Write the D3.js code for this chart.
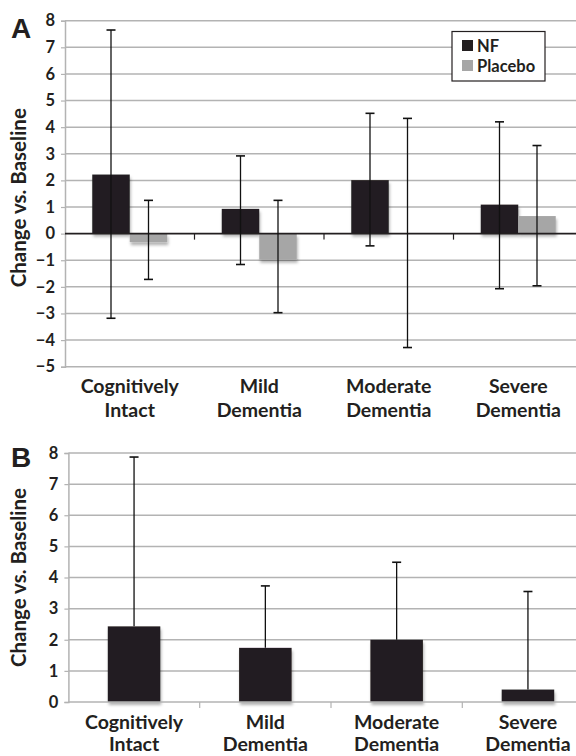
<!DOCTYPE html>
<html>
<head>
<meta charset="utf-8">
<script src="https://cdn.jsdelivr.net/npm/d3@7"></script>
<style>
  body { margin: 0; background: #fff; }
  svg { display: block; font-family: Lato, "Open Sans", sans-serif; font-weight: bold; }
</style>
</head>
<body>
<svg id="chart" width="576" height="756"></svg>
<script>
// categories shared by both panels
const categories = ['Cognitively Intact', 'Mild Dementia', 'Moderate Dementia', 'Severe Dementia'];
const seriesNames = ['NF', 'Placebo'];

// panel A
const nfA = [2.22, 0.93, 2.01, 1.09];
const nfAHigh = [7.65, 2.92, 4.52, 4.2];
const nfALow = [-3.18, -1.16, -0.46, -2.07];
const placeboA = [-0.32, -0.98, 0, 0.66];
const placeboAHigh = [1.25, 1.25, 4.33, 3.31];
const placeboALow = [-1.72, -2.97, -4.28, -1.96];
const ticksA = [-5, -4, -3, -2, -1, 0, 1, 2, 3, 4, 5, 6, 7, 8];

// panel B
const nfB = [2.43, 1.74, 2.0, 0.4];
const nfBHigh = [7.87, 3.73, 4.49, 3.55];
const ticksB = [0, 1, 2, 3, 4, 5, 6, 7, 8];

const colors = { NF: '#231f20', Placebo: '#a6a6a6' };
const gridColor = '#b3b3b3';

const svg = d3.select('#chart');

const defs = svg.append('defs');
const shadow = defs.append('filter').attr('id', 'shadow')
    .attr('x', '-20%').attr('y', '-20%').attr('width', '140%').attr('height', '140%');
shadow.append('feDropShadow')
    .attr('dx', 1).attr('dy', 3).attr('stdDeviation', 1.6)
    .attr('flood-color', '#000').attr('flood-opacity', 0.3);

let drawCategoryLabels = (g, x, y1, lineGap) => {
  categories.forEach((c, i) => {
    const words = c.split(' ');
    const t = g.append('text')
        .attr('text-anchor', 'middle')
        .attr('font-size', 19.5)
        .attr('fill', '#231f20');
    words.forEach((w, j) => {
      t.append('tspan')
          .attr('x', x(c) + x.bandwidth() / 2)
          .attr('y', y1 + j * lineGap)
          .text(w);
    });
  });
};

let drawYAxis = (g, y, ticks, xLeft) => {
  const axis = d3.axisLeft(y).tickValues(ticks).tickSize(4).tickPadding(6).tickFormat(d3.format('d'));
  const ga = g.append('g').attr('transform', `translate(${xLeft},0)`).call(axis);
  ga.select('.domain').attr('stroke', gridColor).attr('stroke-width', 1.5);
  ga.selectAll('.tick line').attr('stroke', gridColor).attr('stroke-width', 1.2);
  ga.selectAll('.tick text').attr('font-size', 16.5).attr('font-family', 'Lato, sans-serif')
      .attr('font-weight', 'bold').attr('fill', '#231f20');
};

let drawErrors = (g, cx, top, bottom, lowCap) => {
  g.append('line').attr('x1', cx).attr('x2', cx).attr('y1', top).attr('y2', bottom)
      .attr('stroke', '#111').attr('stroke-width', 1.3);
  g.append('line').attr('x1', cx - 4.5).attr('x2', cx + 4.5).attr('y1', top).attr('y2', top)
      .attr('stroke', '#111').attr('stroke-width', 1.6);
  if (lowCap) {
    g.append('line').attr('x1', cx - 4.5).attr('x2', cx + 4.5).attr('y1', bottom).attr('y2', bottom)
        .attr('stroke', '#111').attr('stroke-width', 1.6);
  }
};

// ---------- Panel A ----------
const gA = svg.append('g');
const xA = d3.scaleBand().domain(categories).range([65, 583]).padding(0);
const xA1 = d3.scaleBand().domain(seriesNames)
    .range([xA.bandwidth() / 2 - 37.5, xA.bandwidth() / 2 + 37.5]);
const yA = d3.scaleLinear().domain([-5, 8]).range([366.7, 20.7]);

gA.selectAll('.gridA').data(ticksA.filter(d => d !== 0)).enter()
    .append('line')
    .attr('x1', 65).attr('x2', 583)
    .attr('y1', d => yA(d)).attr('y2', d => yA(d))
    .attr('stroke', gridColor).attr('stroke-width', 1.5);

drawYAxis(gA, yA, ticksA, 65);

const dataA = [
  { name: 'NF', values: nfA, high: nfAHigh, low: nfALow },
  { name: 'Placebo', values: placeboA, high: placeboAHigh, low: placeboALow }
];

dataA.forEach(s => {
  gA.append('g').attr('filter', 'url(#shadow)')
    .selectAll('rect').data(s.values).enter()
    .append('rect')
    .attr('x', (d, i) => xA(categories[i]) + xA1(s.name))
    .attr('width', xA1.bandwidth())
    .attr('y', d => yA(Math.max(0, d)))
    .attr('height', d => Math.abs(yA(d) - yA(0)))
    .attr('fill', colors[s.name]);
});

// zero axis
gA.append('line').attr('x1', 65).attr('x2', 583).attr('y1', yA(0)).attr('y2', yA(0))
    .attr('stroke', '#231f20').attr('stroke-width', 1.6);
categories.slice(1).forEach(c => {
  gA.append('line').attr('x1', xA(c)).attr('x2', xA(c))
      .attr('y1', yA(0)).attr('y2', yA(0) + 6)
      .attr('stroke', '#231f20').attr('stroke-width', 1.2);
});

dataA.forEach(s => {
  s.values.forEach((v, i) => {
    const cx = xA(categories[i]) + xA1(s.name) + xA1.bandwidth() / 2;
    drawErrors(gA, cx, yA(s.high[i]), yA(s.low[i]), true);
  });
});

drawCategoryLabels(gA, xA, 393, 24);

// legend
const leg = gA.append('g');
leg.append('rect').attr('x', 452).attr('y', 31.5).attr('width', 93).attr('height', 49.5)
    .attr('fill', '#fff').attr('stroke', '#231f20').attr('stroke-width', 1.2);
seriesNames.forEach((n, i) => {
  leg.append('rect').attr('x', 462).attr('y', 40 + i * 20).attr('width', 11).attr('height', 11)
      .attr('fill', colors[n]);
  leg.append('text').attr('x', 477).attr('y', 52 + i * 20).attr('font-size', 16.5)
      .attr('fill', '#231f20').text(n);
});

// titles
svg.append('text').attr('x', 11).attr('y', 38).attr('font-size', 28)
    .attr('font-family', '"Liberation Sans", Arial, sans-serif').attr('fill', '#231f20').text('A');
svg.append('text')
    .attr('transform', `translate(26,${(yA(8) + yA(-5)) / 2 + 4}) rotate(-90)`)
    .attr('text-anchor', 'middle').attr('font-size', 20.5).attr('fill', '#231f20')
    .text('Change vs. Baseline');

// ---------- Panel B ----------
const gB = svg.append('g');
const xB = d3.scaleBand().domain(categories).range([68.4, 593.6]).paddingInner(0.6).paddingOuter(0.3);
const xBGroup = d3.scaleBand().domain(categories).range([68.4, 593.6]).padding(0);
const yB = d3.scaleLinear().domain([0, 8]).range([702, 453]);

gB.selectAll('.gridB').data(ticksB.filter(d => d !== 0)).enter()
    .append('line')
    .attr('x1', 68.4).attr('x2', 593.6)
    .attr('y1', d => yB(d)).attr('y2', d => yB(d))
    .attr('stroke', gridColor).attr('stroke-width', 1.5);

drawYAxis(gB, yB, ticksB, 68.4);

gB.append('g').attr('filter', 'url(#shadow)')
  .selectAll('rect').data(nfB).enter()
  .append('rect')
  .attr('x', (d, i) => xB(categories[i]))
  .attr('width', xB.bandwidth())
  .attr('y', d => yB(d))
  .attr('height', d => yB(0) - yB(d))
  .attr('fill', colors.NF);

gB.append('line').attr('x1', 68.4).attr('x2', 593.6).attr('y1', yB(0)).attr('y2', yB(0))
    .attr('stroke', gridColor).attr('stroke-width', 1.6);
categories.slice(1).forEach(c => {
  gB.append('line').attr('x1', xBGroup(c)).attr('x2', xBGroup(c))
      .attr('y1', yB(0)).attr('y2', yB(0) + 6)
      .attr('stroke', gridColor).attr('stroke-width', 1.2);
});

nfB.forEach((v, i) => {
  const cx = xB(categories[i]) + xB.bandwidth() / 2;
  drawErrors(gB, cx, yB(nfBHigh[i]), yB(v), false);
});

drawCategoryLabels(gB, xBGroup, 729, 22);

svg.append('text').attr('x', 11).attr('y', 467).attr('font-size', 28)
    .attr('font-family', '"Liberation Sans", Arial, sans-serif').attr('fill', '#231f20').text('B');
svg.append('text')
    .attr('transform', `translate(26,${(yB(8) + yB(0)) / 2}) rotate(-90)`)
    .attr('text-anchor', 'middle').attr('font-size', 20.5).attr('fill', '#231f20')
    .text('Change vs. Baseline');
</script>
</body>
</html>
